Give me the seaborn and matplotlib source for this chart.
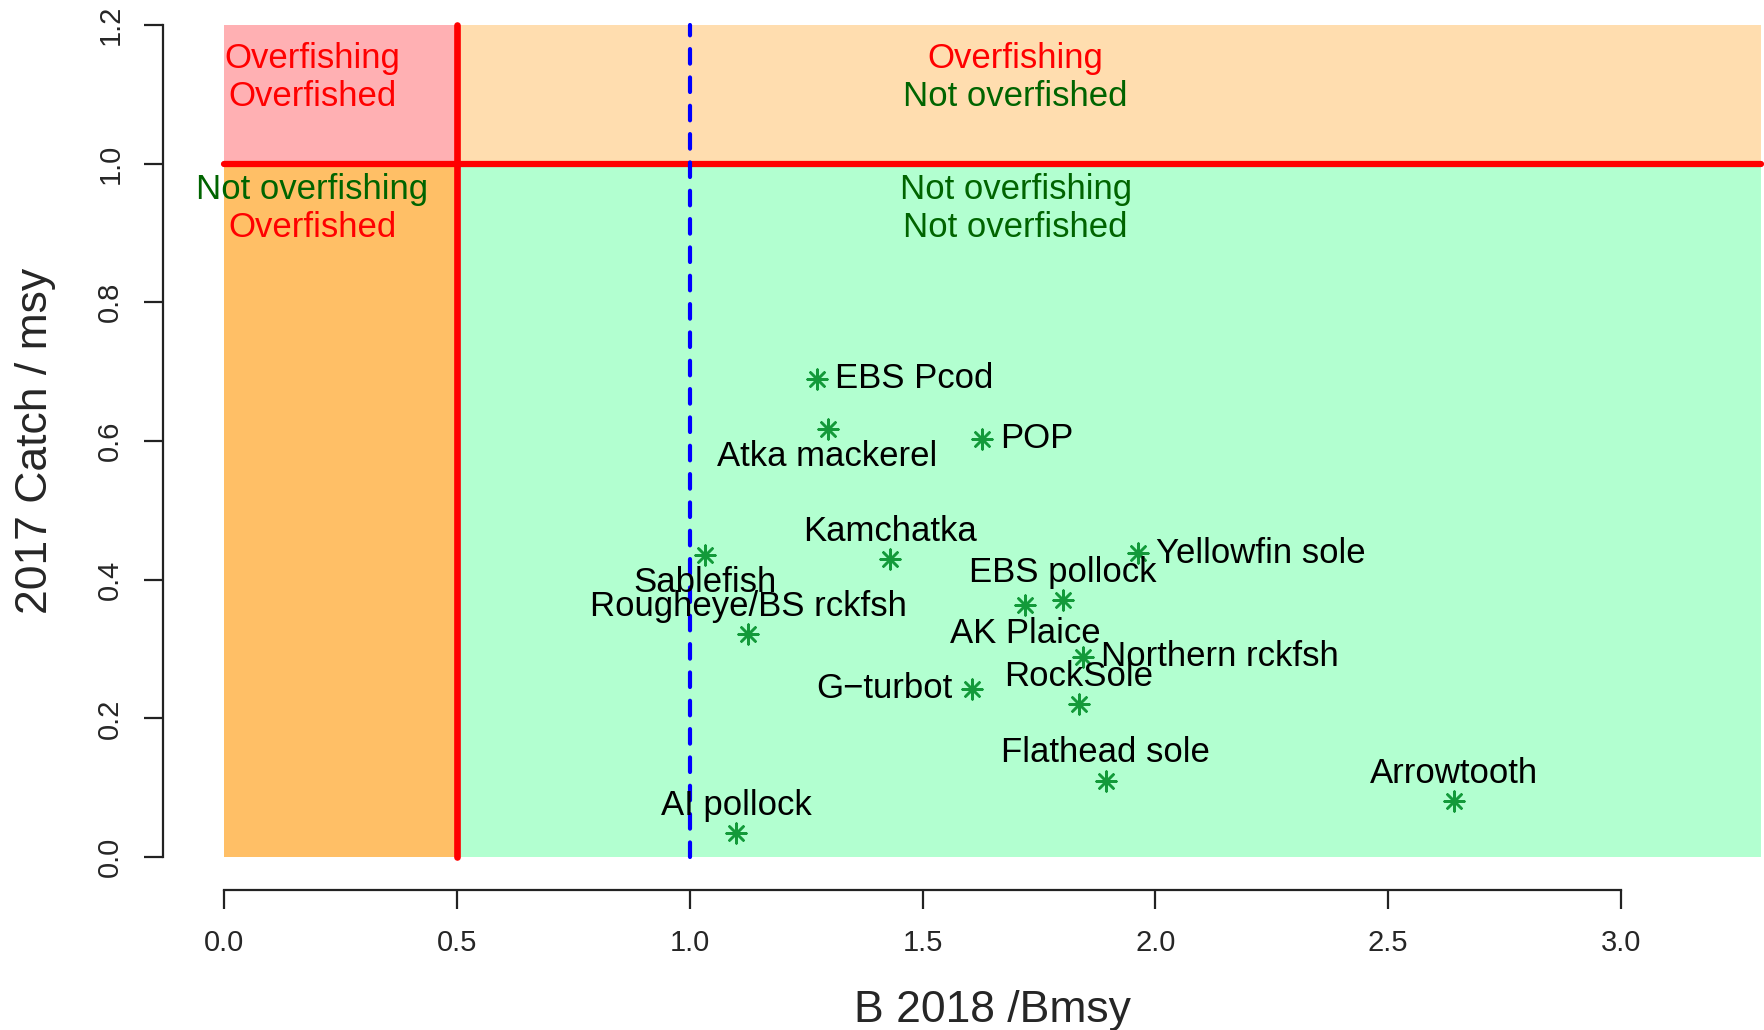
import matplotlib
matplotlib.use("Agg")
import matplotlib.pyplot as plt
import seaborn as sns
import pandas as pd

# ---- data ----
species = ["EBS Pcod", "Atka mackerel", "POP", "Kamchatka", "Sablefish",
           "Rougheye/BS rckfsh", "EBS pollock", "AK Plaice", "Yellowfin sole",
           "Northern rckfsh", "RockSole", "G\u2212turbot", "Flathead sole",
           "Arrowtooth", "AI pollock"]
b_bmsy = [1.274, 1.296, 1.627, 1.431, 1.032, 1.126, 1.801, 1.721, 1.963,
          1.844, 1.835, 1.607, 1.893, 2.642, 1.100]
catch_msy = [0.690, 0.618, 0.603, 0.430, 0.436, 0.321, 0.371, 0.363, 0.438,
             0.289, 0.220, 0.243, 0.110, 0.081, 0.034]
# R-style label position: 1=below, 2=left, 3=above, 4=right
label_pos = [4, 1, 4, 3, 1, 3, 3, 1, 4, 4, 3, 2, 3, 3, 3]

x_ticks = [0.0, 0.5, 1.0, 1.5, 2.0, 2.5, 3.0]
y_ticks = [0.0, 0.2, 0.4, 0.6, 0.8, 1.0, 1.2]

df = pd.DataFrame({"species": species, "B": b_bmsy, "C": catch_msy, "pos": label_pos})

# ---- figure ----
sns.set_style("white")
plt.rcParams["font.family"] = ["Liberation Sans", "DejaVu Sans"]

fig = plt.figure(figsize=(17.65, 10.30), dpi=100)
ax = fig.add_axes([0.0921, 0.1356, 0.9403, 0.8725])
ax.set_xlim(-0.132, 3.432)
ax.set_ylim(-0.048, 1.248)

# quadrant backgrounds
ax.fill_between([0, 0.5], 1.0, 1.2, color="#FFB0B3", lw=0, zorder=0)
ax.fill_between([0.5, 3.3], 1.0, 1.2, color="#FFDDAF", lw=0, zorder=0)
ax.fill_between([0, 0.5], 0.0, 1.0, color="#FFBF66", lw=0, zorder=0)
ax.fill_between([0.5, 3.3], 0.0, 1.0, color="#B2FFD0", lw=0, zorder=0)

# reference lines
ax.plot([0.5, 0.5], [0, 1.2], color="#FF0000", lw=4.8, solid_capstyle="round", zorder=2)
ax.plot([0, 3.3], [1.0, 1.0], color="#FF0000", lw=4.5, solid_capstyle="round", zorder=2)
ax.plot([1.0, 1.0], [0, 1.2], color="#0000FF", lw=3.0, ls=(0, (3.5, 3.3)),
        dash_capstyle="round", zorder=2)

# quadrant texts
fs_q = 25
red = "#FF0000"
dgreen = "#006400"
ax.text(0.19, 1.152, "Overfishing", color=red, fontsize=fs_q, ha="center", va="center", zorder=3)
ax.text(0.19, 1.097, "Overfished", color=red, fontsize=fs_q, ha="center", va="center", zorder=3)
ax.text(1.70, 1.152, "Overfishing", color=red, fontsize=fs_q, ha="center", va="center", zorder=3)
ax.text(1.70, 1.097, "Not overfished", color=dgreen, fontsize=fs_q, ha="center", va="center", zorder=3)
ax.text(0.19, 0.963, "Not overfishing", color=dgreen, fontsize=fs_q, ha="center", va="center", zorder=3)
ax.text(0.19, 0.908, "Overfished", color=red, fontsize=fs_q, ha="center", va="center", zorder=3)
ax.text(1.70, 0.963, "Not overfishing", color=dgreen, fontsize=fs_q, ha="center", va="center", zorder=3)
ax.text(1.70, 0.908, "Not overfished", color=dgreen, fontsize=fs_q, ha="center", va="center", zorder=3)

# points
sns.scatterplot(data=df, x="B", y="C", ax=ax, marker=(8, 2, 0), s=200,
                color="#139A3A", edgecolor="#139A3A", linewidth=1.8, zorder=4, legend=False)

# labels
offsets = {1: (0, -20, "center", "center"), 2: (-14, 0, "right", "center"),
           3: (0, 20, "center", "center"), 4: (13, 0, "left", "center")}
for _, r in df.iterrows():
    dx, dy, ha, va = offsets[r["pos"]]
    ax.annotate(r["species"], (r["B"], r["C"]), xytext=(dx, dy), textcoords="offset points",
                ha=ha, va=va, fontsize=25, color="black", zorder=5)

# axes (R style)
for s in ["top", "right"]:
    ax.spines[s].set_visible(False)
ax.spines["left"].set_bounds(0, 1.2)
ax.spines["bottom"].set_bounds(0, 3.0)
for s in ["left", "bottom"]:
    ax.spines[s].set_linewidth(1.6)
    ax.spines[s].set_color("#222222")
ax.set_xticks(x_ticks)
ax.set_xticklabels([f"{v:.1f}" for v in x_ticks])
ax.set_yticks(y_ticks)
ax.set_yticklabels([f"{v:.1f}" for v in y_ticks], rotation=90, va="center")
ax.tick_params(axis="both", direction="out", length=13.5, width=1.6, color="#222222",
               labelsize=21, bottom=True, left=True)
ax.tick_params(axis="x", pad=14)
ax.tick_params(axis="y", pad=14)
ax.set_xlabel("B 2018 /Bmsy", fontsize=32, labelpad=24)
ax.set_ylabel("2017 Catch / msy", fontsize=32, labelpad=29)
ax.grid(False)

fig.savefig("out.png", dpi=100)
